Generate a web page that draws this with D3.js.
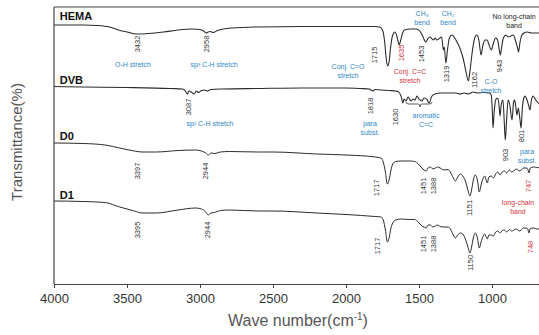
<!DOCTYPE html>
<html>
<head>
<meta charset="utf-8">
<script src="https://cdn.jsdelivr.net/npm/d3@7"></script>
<style>
  body { margin: 0; background: #fff; }
  svg text { font-family: "Liberation Sans", Arial, sans-serif; }
</style>
</head>
<body>
<div id="chart"></div>
<script>
// wave numbers (cm-1) and offset transmittance
var hemaWave = [4000,3800,3700,3620,3560,3500,3432,3350,3250,3150,3050,3000,2975,2958,2945,2930,2910,2880,2840,2780,2600,2300,2000,1800,1770,1750,1735,1725,1715,1705,1695,1682,1665,1652,1642,1635,1625,1612,1600,1560,1520,1495,1475,1460,1453,1440,1425,1410,1400,1390,1378,1365,1345,1333,1327,1316,1305,1292,1275,1260,1240,1215,1195,1178,1162,1150,1138,1122,1105,1090,1075,1062,1045,1033,1020,1005,992,975,962,950,943,935,922,905,888,870,855,840,825,818,808,795,780,760,730,690,670];
var hemaT = [259,259,258.5,257,254,252,250,250.5,252,254,255,254.5,253,251,252,252.5,251.5,253.5,255,256,257,257.5,257.5,257.5,257,254,242,226,218,222,236,248,252,248,242,239,244,251,254,255,255,253,248,243,242,245,247,245,244,246,244,245,247,234,237,221,234,246,249,247,242,234,224,212,203,214,229,244,249,244,229,239,244,244,239,234,240,246,244,234,229,236,246,249,247,248,249,244,236,232,242,249,251,252,251,251,251];

var dvbWave = [4000,3800,3500,3200,3120,3100,3087,3075,3060,3040,3025,3010,2990,2970,2950,2925,2850,2600,2300,2000,1900,1840,1818,1800,1760,1700,1660,1644,1623,1610,1603,1589,1575,1555,1541,1527,1514,1500,1479,1466,1445,1432,1411,1390,1350,1300,1250,1219,1190,1160,1130,1100,1060,1020,1005,998,993,985,975,962,952,945,937,925,915,909,900,890,878,863,852,845,836,829,820,808,801,792,782,774,760,748,740,730,719,700,678];
var dvbT = [197.5,197,196.5,195.5,195,193,190,193,192,190,193,191.5,193.5,194,193,194.5,195,195.5,196,196,195.5,195,193,194.5,194,193.5,193,192.5,188,181,185,183,187,183,185,184,188,185,183,186,184.5,181,188,190,191,191,191,190,191,190,192,191,191.5,191,189,174,156,172,184,186,179,168,179,184,159,144,164,184,179,164,182,184,176,169,176,164,156,176,186,188,184,178,174,184,188,184,180];

var d0Wave = [4000,3800,3650,3550,3450,3397,3300,3150,3030,2990,2960,2944,2925,2900,2860,2800,2600,2500,2200,2000,1800,1760,1745,1730,1717,1705,1692,1680,1660,1620,1560,1530,1505,1480,1465,1451,1438,1422,1405,1388,1372,1355,1330,1300,1285,1265,1250,1235,1215,1200,1180,1165,1151,1140,1128,1115,1100,1087,1075,1060,1050,1040,1032,1022,1005,990,975,960,945,930,915,900,880,865,845,830,815,800,785,765,755,747,738,715,690,670];
var d0T = [141,140.5,139,136,133,132,132,133.5,134,133,131,129,131,130.5,132,132.5,132,132,130,129,127,126,122,112,100,104,114,120,122.5,123,123,122.5,120,116,114,113,116,117,115,116,117,116,114,114.5,112,106,103,107,110,108,102,94,88,94,104,109,104,92,99,106,108,104,101,107,108,106,110,112,109,112,113,111,114,112,114,115,113,114,116,116,115,111,116,117,116.5,116];

var d1Wave = d0Wave;
var d1T = [83,82.5,81.5,77,73,71,71,74,76,75,72,69,71,71.5,73.5,74,73,73,71,69.5,67.5,67,64,54,42,46,56,61,64,65,64.5,64.5,62,58,57,56,59,59,57,58,59,57.5,57,57,55,49,46,49,51,50,44,37,31,37,46,51,46,36,42,48,50,47,45,49,49,48,52,53,51,53.5,54,52,54.5,53,54.5,55,53,54,56,56,55,51,55.5,56,55,55];

var seriesNames = ["HEMA", "DVB", "D0", "D1"];
var seriesWaves = [hemaWave, dvbWave, d0Wave, d1Wave];
var seriesT = [hemaT, dvbT, d0T, d1T];
var nameT = [264, 200, 144, 85];

var xTicks = [4000, 3500, 3000, 2500, 2000, 1500, 1000];

// peak numbers (rotated): [wave, T, text, red?]
var peakLabels = [
  [3432, 240, "3432", 0], [2959, 240, "2958", 0], [1808, 229, "1715", 0], [1623, 231, "1635", 1],
  [1486, 230, "1453", 0], [1315, 210, "1319", 0], [1123, 204, "1162", 0], [952, 218, "943", 0],
  [3082, 177, "3087", 0], [1836, 178, "1818", 0], [1664, 167, "1630", 0], [911, 129, "903", 0], [801, 148, "801", 0],
  [3432, 113, "3397", 0], [2960, 113, "2944", 0], [1795, 96, "1717", 0], [1473, 98, "1451", 0], [1404, 98, "1388", 0],
  [1158, 76, "1151", 0], [753, 98, "747", 1],
  [3432, 54, "3395", 0], [2952, 54, "2944", 0], [1788, 38, "1717", 0], [1473, 40, "1451", 0], [1404, 40, "1388", 0],
  [1151, 21, "1150", 0], [740, 37, "748", 1]
];

// band notes: [wave, T of first line, lines, colour key]
var notes = [
  [3459, 219, ["O-H stretch"], "b"],
  [2904, 219, ["sp\u00b3 C-H stretch"], "b"],
  [1986, 217, ["Conj. C=O", "stretch"], "b"],
  [1562, 212, ["Conj. C=C", "stretch"], "r"],
  [1479, 270, ["CH\u2083", "bend"], "b"],
  [1301, 270, ["CH\u2082", "bend"], "b"],
  [849, 267, ["No long-chain", "band"], "k"],
  [1007, 202, ["C-O", "stretch"], "b"],
  [2932, 160, ["sp\u00b2 C-H stretch"], "b"],
  [1836, 160, ["para", "subst."], "b"],
  [1452, 168, ["aromatic", "C=C"], "b"],
  [760, 132, ["para", "subst."], "b"],
  [822, 81, ["long-chain", "band"], "r"]
];
var noteColour = { b: "#2f86c8", r: "#d6303a", k: "#222" };

var svgWidth = 539;
var svgHeight = 335;
var margin = { top: 7, right: 0, bottom: 51, left: 54 };
var width = svgWidth - margin.left - margin.right;
var height = svgHeight - margin.top - margin.bottom;

var svg = d3.select("#chart")
  .append("svg")
    .attr("width", svgWidth)
    .attr("height", svgHeight)
  .append("g")
    .attr("transform", `translate(${margin.left}, ${margin.top})`);

var x = d3.scaleLinear()
  .domain([4000, 4000 - width / 0.146])
  .range([0, width]);

var y = d3.scaleLinear()
  .domain([0, 277])
  .range([height, 0]);

svg.append("clipPath").attr("id", "clip")
  .append("rect").attr("width", width).attr("height", height);

// spectra
var line = d3.line()
  .x(d => x(d[0]))
  .y(d => y(d[1]))
  .curve(d3.curveMonotoneX);

seriesNames.forEach(function(name, i) {
  var pts = seriesWaves[i].map((w, j) => [w, seriesT[i][j]]);
  svg.append("path")
    .datum(pts)
    .attr("clip-path", "url(#clip)")
    .attr("fill", "none")
    .attr("stroke", "#2b2b2b")
    .attr("stroke-width", i == 0 || i == 1 ? 1.1 : 1)
    .attr("d", line);

  svg.append("text")
    .attr("x", x(3960))
    .attr("y", y(nameT[i]))
    .attr("font-size", "11px")
    .attr("font-weight", "bold")
    .attr("fill", "#111")
    .text(name);
});

// frame
svg.append("line").attr("x1", 0).attr("x2", width).attr("y1", 0).attr("y2", 0)
  .attr("stroke", "#444").attr("stroke-width", 1.2);
svg.append("line").attr("x1", 0).attr("x2", 0).attr("y1", 0).attr("y2", height)
  .attr("stroke", "#444").attr("stroke-width", 1.2);

var xAxis = svg.append("g")
  .attr("transform", "translate(0," + height + ")")
  .call(d3.axisBottom(x).tickValues(xTicks).tickSize(4).tickPadding(6).tickFormat(d3.format("d")));
xAxis.select(".domain").attr("stroke", "#444").attr("stroke-width", 1.2);
xAxis.selectAll(".tick line").attr("stroke", "#444");
xAxis.selectAll("text")
  .attr("font-size", "13px")
  .attr("fill", "#333")
  .style("font-family", "'Liberation Sans', Arial, sans-serif");

// peak numbers
svg.selectAll(".peak")
  .data(peakLabels)
  .enter()
  .append("text")
    .attr("class", "peak")
    .attr("transform", d => `translate(${x(d[0])},${y(d[1])}) rotate(-90)`)
    .attr("text-anchor", "middle")
    .attr("dy", "0.35em")
    .attr("font-size", "7.5px")
    .attr("fill", d => d[3] ? "#d6303a" : "#333")
    .text(d => d[2]);

// band notes
notes.forEach(function(n) {
  n[2].forEach(function(t, k) {
    svg.append("text")
      .attr("x", x(n[0]))
      .attr("y", y(n[1]) + k * 8.5)
      .attr("dy", "0.35em")
      .attr("text-anchor", "middle")
      .attr("font-size", "7px")
      .attr("fill", noteColour[n[3]])
      .text(t);
  });
});

// brace under aromatic C=C
var bx0 = x(1589), bx1 = x(1411), bxm = x(1493), by = y(180);
svg.append("path")
  .attr("fill", "none")
  .attr("stroke", "#333")
  .attr("stroke-width", 0.8)
  .attr("d", `M${bx0},${by - 2} Q${bx0},${by} ${bx0 + 3},${by} L${bxm - 2},${by} Q${bxm},${by} ${bxm},${by + 3} Q${bxm},${by} ${bxm + 2},${by} L${bx1 - 3},${by} Q${bx1},${by} ${bx1},${by - 2}`);

// axis labels
svg.append("text")
  .attr("x", 244)
  .attr("y", height + 42)
  .attr("text-anchor", "middle")
  .attr("font-size", "16px")
  .attr("fill", "#555")
  .html("Wave number(cm<tspan dy='-6' font-size='10px'>-1</tspan><tspan dy='6'>)</tspan>");

svg.append("text")
  .attr("transform", `translate(${17 - margin.left},${142 - margin.top}) rotate(-90)`)
  .attr("text-anchor", "middle")
  .attr("dy", "0.35em")
  .attr("font-size", "15px")
  .attr("fill", "#555")
  .text("Transmittance(%)");
</script>
</body>
</html>
